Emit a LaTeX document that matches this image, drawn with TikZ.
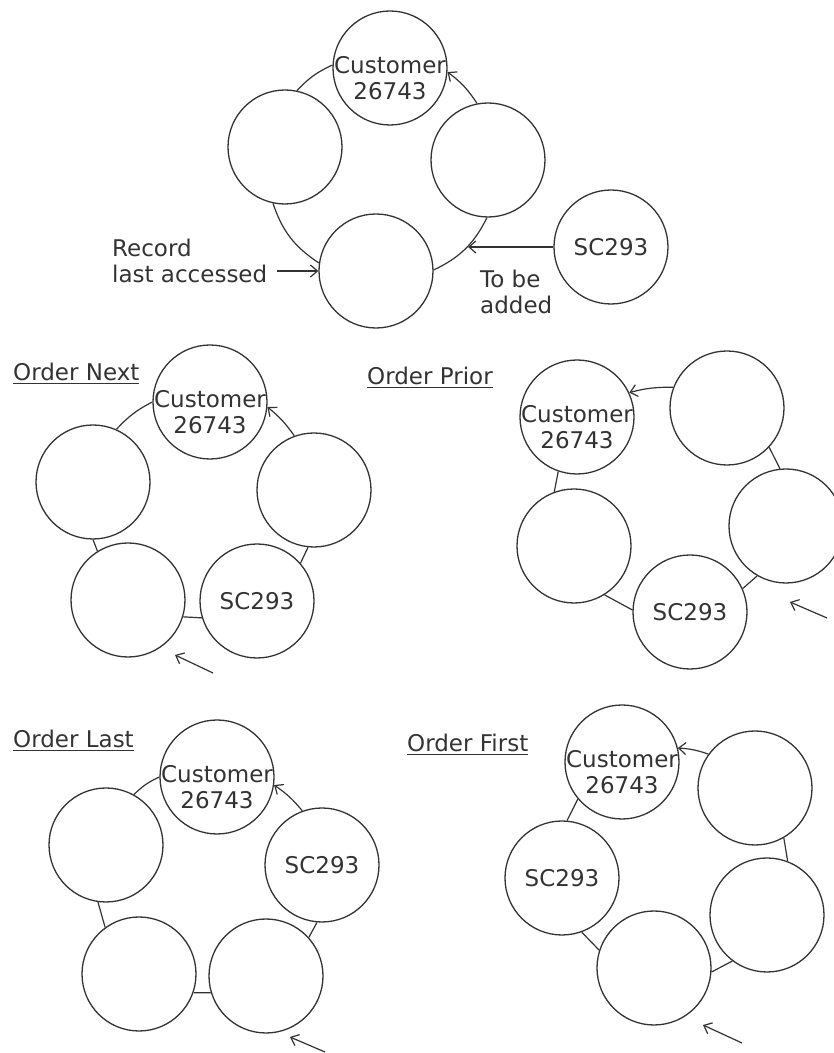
\documentclass[tikz,border=0pt]{standalone}
\usepackage{fontspec}
\setmainfont{DejaVu Sans}
\usetikzlibrary{arrows.meta,positioning}
\tikzset{
    record/.style = {circle, draw=black!80, fill=white, line width=1.3pt, minimum size=114pt, inner sep=0pt, text=black!80},
    link/.style = {draw=black!80, line width=1.2pt},
    linkto/.style = {link, -{Straight Barb[length=7pt,width=12pt]}},
    caption/.style = {anchor=west, align=left, inner sep=0pt, text=black!80},
    heading/.style = {anchor=base west, inner sep=0pt, text=black!80}
}
\newcommand{\custtext}{\makebox[0pt]{\smash{\raisebox{-20pt}{\begin{tabular}{@{}c@{}}Customer\\26743\end{tabular}}}}}

\begin{document}
\begin{tikzpicture}[x=1pt, y=1pt, font=\fontsize{23}{26}\selectfont]
    \useasboundingbox (0,0) rectangle (834,1053);

    % adding a record
    \node [record] (tCust) at (390,985) {\custtext};
    \node [record] (tLeft) at (285,906) {};
    \node [record] (tRight) at (488,893) {};
    \node [record] (tBot) at (376,782) {};
    \node [record] (tNew) at (611,806) {SC293};
    \node [caption] (recText) at (112,792) {Record\\last accessed};
    \node [caption] (addText) at (480,761) {To be\\added};
    \coordinate (recTail) at (277,782);
    \coordinate (newTip) at (468,806);
    \draw [link] (tCust.177) to[bend right=11] (tLeft.78);
    \draw [link] (tLeft.258) to[bend right=19] (tBot.172);
    \draw [link] (tBot.1) to[bend right=19] (tRight.269);
    \draw [linkto] (tRight.101) to[bend right=10] (tCust.356);
    \draw [linkto] (recTail) -- (tBot.west);
    \draw [linkto] (tNew.west) -- (newTip);

    % order next
    \node [heading] (nextTitle) at (13,672) {\underline{Order Next}};
    \node [record] (nCust) at (210,651) {\custtext};
    \node [record] (nLeft) at (93,571) {};
    \node [record] (nRight) at (314,563) {};
    \node [record] (nLow) at (128,453) {};
    \node [record] (nNew) at (257,452) {SC293};
    \coordinate (nTail) at (213,380);
    \coordinate (nTip) at (175,398);
    \draw [link] (nCust.180) to[bend right=10] (nLeft.66);
    \draw [link] (nLeft.270) -- (nLow.122);
    \draw [link] (nLow.-17) -- (nNew.197);
    \draw [link] (nNew.41) -- (nRight.264);
    \draw [linkto] (nRight.110) to[bend right=8] (nCust.355);
    \draw [linkto] (nTail) -- (nTip);

    % order prior
    \node [heading] (priorTitle) at (367,668) {\underline{Order Prior}};
    \node [record] (pCust) at (577,636) {\custtext};
    \node [record] (pTop) at (727,645) {};
    \node [record] (pLeft) at (574,507) {};
    \node [record] (pRight) at (786,527) {};
    \node [record] (pNew) at (690,441) {SC293};
    \coordinate (pTail) at (827,435);
    \coordinate (pTip) at (790,451);
    \draw [link] (pCust.251) -- (pLeft.110);
    \draw [link] (pLeft.302) -- (pNew.178);
    \draw [link] (pNew.24) -- (pRight.240);
    \draw [link] (pRight.96) -- (pTop.317);
    \draw [linkto] (pTop.159) to[bend right=8] (pCust.25);
    \draw [linkto] (pTail) -- (pTip);

    % order last
    \node [heading] (lastTitle) at (13,305) {\underline{Order Last}};
    \node [record] (lCust) at (217,276) {\custtext};
    \node [record] (lLeft) at (106,208) {};
    \node [record] (lNew) at (322,188) {SC293};
    \node [record] (lLowL) at (139,79) {};
    \node [record] (lLowR) at (266,77) {};
    \coordinate (lTail) at (325,1);
    \coordinate (lTip) at (290,16);
    \draw [link] (lCust.180) to[bend right=10] (lLeft.61);
    \draw [link] (lLeft.262) -- (lLowL.126);
    \draw [link] (lLowL.-19) -- (lLowR.197);
    \draw [link] (lLowR.42) -- (lNew.265);
    \draw [linkto] (lNew.110) to[bend right=8] (lCust.352);
    \draw [linkto] (lTail) -- (lTip);

    % order first
    \node [heading] (firstTitle) at (407,301) {\underline{Order First}};
    \node [record] (fCust) at (622,291) {\custtext};
    \node [record] (fTop) at (755,265) {};
    \node [record] (fNew) at (562,175) {SC293};
    \node [record] (fRight) at (767,138) {};
    \node [record] (fLow) at (654,85) {};
    \coordinate (fTail) at (742,10);
    \coordinate (fTip) at (703,28);
    \draw [link] (fCust.220) -- (fNew.85);
    \draw [link] (fNew.290) -- (fLow.162);
    \draw [link] (fLow.-4) -- (fRight.233);
    \draw [link] (fRight.69) -- (fTop.300);
    \draw [linkto] (fTop.144) to[bend right=8] (fCust.14);
    \draw [linkto] (fTail) -- (fTip);
\end{tikzpicture}
\end{document}
